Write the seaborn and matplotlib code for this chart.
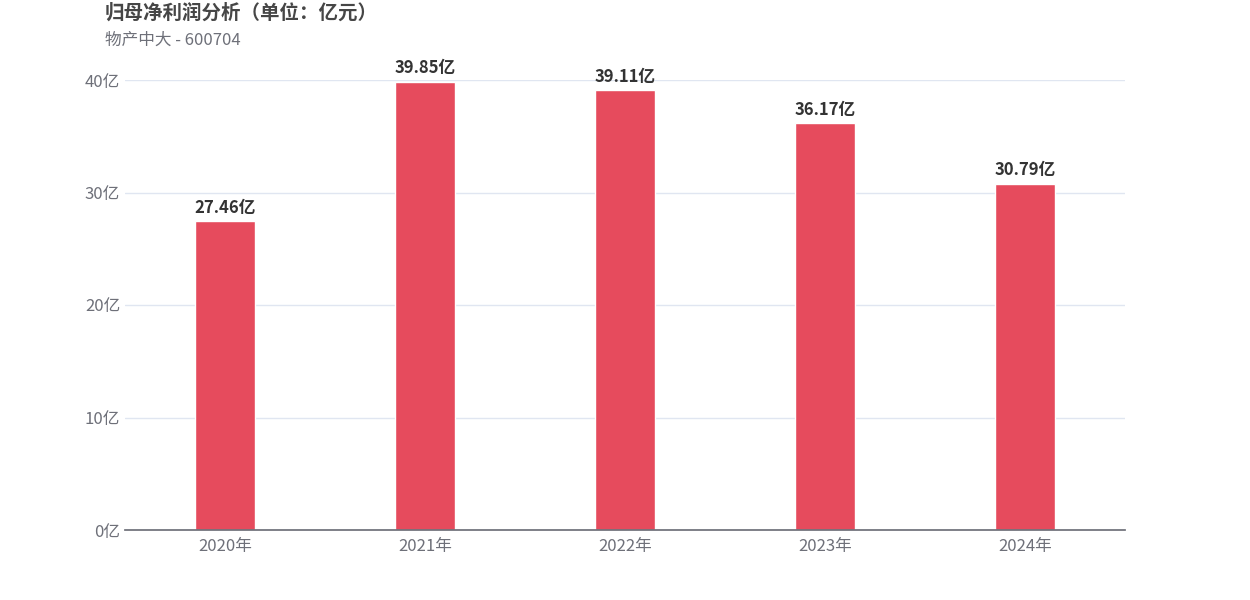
import matplotlib
matplotlib.use("Agg")
import matplotlib.pyplot as plt
import seaborn as sns
import pandas as pd

years = ["2020年", "2021年", "2022年", "2023年", "2024年"]
values = [27.46, 39.85, 39.11, 36.17, 30.79]
yticks = [0, 10, 20, 30, 40]

sns.set_theme(style="white")
plt.rcParams['font.family'] = ['Noto Sans CJK SC', 'DejaVu Sans']

df = pd.DataFrame({"year": years, "value": values})
fig = plt.figure(figsize=(12.5, 6), dpi=100)
ax = fig.add_axes([0.1, 1 - 530/600, 0.8, 450/600])
sns.barplot(data=df, x="year", y="value", color="#E64B5D", width=0.3, saturation=1, ax=ax)
ax.set_ylim(0, 40)
ax.set_xlim(-0.5, 4.5)
ax.set_yticks(yticks)
ax.set_yticklabels([f"{v}亿" for v in yticks])
ax.grid(axis="y", color="#E0E6F1", linewidth=1)
ax.set_axisbelow(True)
for s in ["top", "right", "left"]:
    ax.spines[s].set_visible(False)
ax.spines["bottom"].set_color("#6E7079")
ax.tick_params(axis="both", colors="#6E7079", labelsize=12, length=0)
ax.tick_params(axis="x", pad=6)
ax.set_xlabel("")
ax.set_ylabel("")
for i, v in enumerate(values):
    ax.text(i, v + 0.4, f"{v:.2f}亿", ha="center", va="bottom", fontsize=12,
            fontweight="bold", color="#333333", clip_on=False)
fig.text(105/1250, 1 - 13/600, "归母净利润分析（单位：亿元）", fontsize=14, fontweight="bold",
         color="#464646", va="center")
fig.text(105/1250, 1 - 40/600, "物产中大 - 600704", fontsize=12, color="#6E7079", va="center")
fig.savefig("out.png", dpi=100)
